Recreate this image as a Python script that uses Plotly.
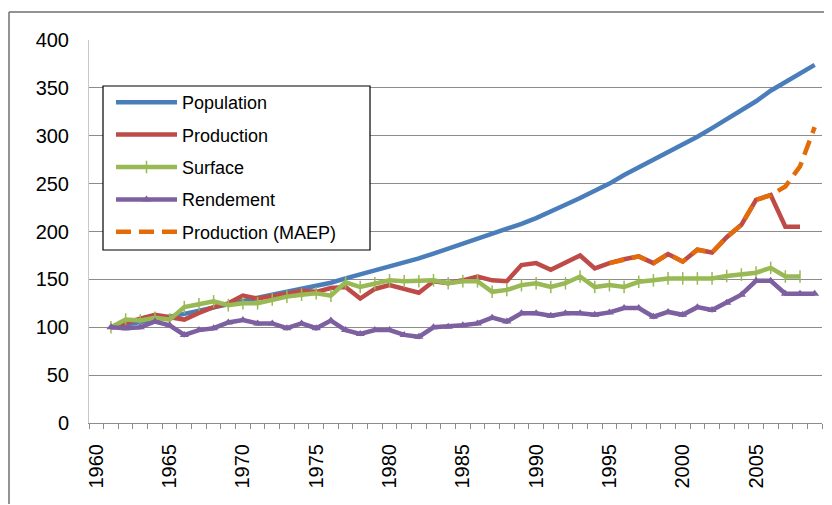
import plotly.graph_objects as go

years_pop = list(range(1961, 2010))
population = [100, 102.5, 105, 108, 111, 114, 117.5, 121, 124.5, 128,
              131, 134, 137, 140, 143, 146.5, 151, 155, 159.5, 164,
              168, 172, 177, 182, 187.5, 192, 197, 202, 208, 214,
              220.5, 228, 235, 242, 250, 259, 267, 275, 282, 290,
              299, 308, 317, 326, 336, 347, 356, 365, 374]

years_prod = list(range(1961, 2009))
production = [100, 105, 109, 113, 110, 108, 115, 121, 125, 133,
              130, 132, 135, 138, 137, 141, 142, 130, 140, 144,
              140, 136, 148, 146, 149, 153, 149, 148, 165, 167,
              160, 168, 175, 161.5, 167, 171, 174, 167, 176.5, 168.5,
              181, 178, 194, 207, 233, 238, 205, 205]

years_surf = list(range(1961, 2009))
surface = [100, 108, 107, 110, 108, 121, 124, 127, 123, 125,
           125, 129, 132, 134, 135.5, 133, 147, 142, 146, 149,
           148, 148, 149, 146, 148, 148, 137, 139, 144, 146,
           142, 146, 153, 142, 144, 142, 147.5, 149, 151, 151,
           151, 151, 153.5, 155, 157, 162, 153, 153]

years_rend = list(range(1961, 2010))
rendement = [100, 99, 100, 106, 102, 92, 97, 99, 105, 107.5,
             104, 104, 99, 104, 99, 107, 97, 93, 97, 97,
             92, 90, 100, 100.5, 102, 104, 110, 106, 114.5, 114.5,
             112, 114.5, 114.5, 113, 115.5, 120, 120, 111, 116, 113,
             121, 118, 125.5, 134, 148.5, 148.5, 135, 135, 135]

years_maep = list(range(1995, 2010))
production_maep = [167, 171, 174, 167, 176.5, 168.5, 181, 178, 194, 207,
                   233, 238, 247, 268, 309]

x_tick_years = list(range(1960, 2010, 5))
y_ticks = list(range(0, 401, 50))

series_names = ["Population", "Production", "Surface", "Rendement", "Production (MAEP)"]
colors = ["#4A7EBB", "#BE4B48", "#98B954", "#7D60A0", "#E36C09"]

FONT = "Liberation Sans"
OFF = 8  # page body margin
W, H = 824, 497
PL, PT, PR, PB = 89, 40, 822, 423  # plot area in window pixels
L, T = PL - OFF, PT - OFF
pw, ph = PR - PL, PB - PT
R = W - L - pw
B = H - T - ph


def px_x(p):
    return (p - PL) / pw


def px_y(p):
    return (PB - p) / ph


fig = go.Figure()
fig.add_trace(go.Scatter(x=years_pop, y=population, name=series_names[0], mode="lines",
                         line=dict(color=colors[0], width=4.5), legendgroup="a"))
fig.add_trace(go.Scatter(x=years_prod, y=production, name=series_names[1], mode="lines",
                         line=dict(color=colors[1], width=4.5), legendgroup="b"))
fig.add_trace(go.Scatter(x=years_surf, y=surface, name=series_names[2], mode="lines+markers",
                         line=dict(color=colors[2], width=4.5),
                         marker=dict(symbol="line-ns-open", size=9, color=colors[2],
                                     line=dict(color=colors[2], width=1.5)),
                         legendgroup="c"))
fig.add_trace(go.Scatter(x=years_rend, y=rendement, name=series_names[3], mode="lines+markers",
                         line=dict(color=colors[3], width=4.5),
                         marker=dict(symbol="triangle-up", size=8, color=colors[3]),
                         legendgroup="d"))
fig.add_trace(go.Scatter(x=years_maep, y=production_maep, name=series_names[4], mode="lines",
                         line=dict(color=colors[4], width=4.5, dash="15px,8px"), legendgroup="e"))

fig.update_layout(
    width=W, height=H,
    margin=dict(l=L, r=R, t=T, b=B, pad=0, autoexpand=False),
    paper_bgcolor="white", plot_bgcolor="white",
    font=dict(family=FONT, size=20, color="#000000"),
    showlegend=True,
    legend=dict(x=px_x(111), y=px_y(84), xanchor="left", yanchor="top",
                bgcolor="rgba(0,0,0,0)", borderwidth=0,
                font=dict(family=FONT, size=18, color="#000000"),
                traceorder="grouped", tracegroupgap=6, itemwidth=61),
    xaxis=dict(range=[1959.5, 2009.5], tickmode="array", tickvals=x_tick_years,
               ticktext=[str(v) for v in x_tick_years], tickangle=-90,
               ticks="", showgrid=False, zeroline=False, automargin=False,
               showline=True, linecolor="#8C8C8C", linewidth=1,
               ticklabelstandoff=12,
               minor=dict(tickmode="array", tickvals=[y + 0.5 for y in range(1959, 2010)],
                          ticks="outside", ticklen=5, tickcolor="#8C8C8C", tickwidth=1,
                          showgrid=False),
               tickfont=dict(family=FONT, size=20, color="#000000")),
    yaxis=dict(range=[0, 400], tickmode="array", tickvals=y_ticks,
               ticks="", showgrid=True, gridcolor="#8C8C8C", gridwidth=1,
               zeroline=False, showline=True, linecolor="#C8C8C8", linewidth=1,
               automargin=False, ticklabelstandoff=15,
               tickfont=dict(family=FONT, size=20, color="#000000")),
    shapes=[
        dict(type="rect", xref="paper", yref="paper",
             x0=px_x(103), x1=px_x(370), y0=px_y(250), y1=px_y(86),
             fillcolor="white", line=dict(color="#000000", width=1.2), layer="above"),
        dict(type="line", xref="paper", yref="paper",
             x0=px_x(OFF + 1), x1=px_x(OFF + 1), y0=px_y(12), y1=px_y(H + OFF - 1),
             line=dict(color="#6F6F6F", width=1.5), layer="above"),
        dict(type="line", xref="paper", yref="paper",
             x0=px_x(OFF + 1), x1=px_x(W + OFF - 1), y0=px_y(12), y1=px_y(12),
             line=dict(color="#6F6F6F", width=1.5), layer="above"),
    ],
)

fig.write_html("out.html")
